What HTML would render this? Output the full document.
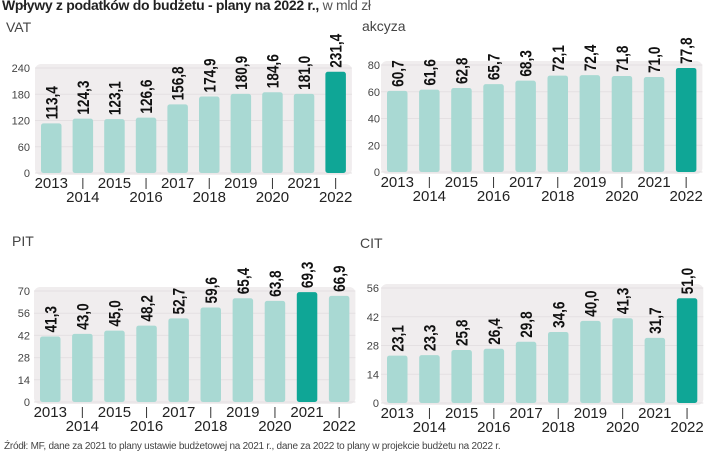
<!DOCTYPE html>
<html><head><meta charset="utf-8">
<style>
html,body{margin:0;padding:0;background:#fff;}
body{width:720px;height:457px;position:relative;overflow:hidden;font-family:"Liberation Sans",sans-serif;}
.t{position:absolute;white-space:nowrap;color:#222;}
</style></head>
<body>
<div class="t" style="left:2px;top:-3px;font-size:14px;letter-spacing:-0.3px;"><b>Wpływy z podatków do budżetu - plany na 2022 r.,</b> <span style="color:#555">w mld zł</span></div>
<div class="t" style="left:6px;top:19px;font-size:14px;color:#444">VAT</div>
<div class="t" style="left:362px;top:18px;font-size:14px;color:#444">akcyza</div>
<div class="t" style="left:12px;top:233px;font-size:14px;color:#444">PIT</div>
<div class="t" style="left:360px;top:235px;font-size:14px;color:#444">CIT</div>
<div class="t" style="left:4px;top:441px;font-size:10px;color:#444;letter-spacing:-0.25px">Źródł: MF, dane za 2021 to plany ustawie budżetowej na 2021 r., dane za 2022 to plany w projekcie budżetu na 2022 r.</div>
<svg id="chart" width="720" height="457" style="position:absolute;left:0;top:0"></svg>
<script>
const years = ["2013","2014","2015","2016","2017","2018","2019","2020","2021","2022"];
const vatValues = [113.4,124.3,123.1,126.6,156.8,174.9,180.9,184.6,181.0,231.4];
const akcyzaValues = [60.7,61.6,62.8,65.7,68.3,72.1,72.4,71.8,71.0,77.8];
const pitValues = [41.3,43.0,45.0,48.2,52.7,59.6,65.4,63.8,69.3,66.9];
const citValues = [23.1,23.3,25.8,26.4,29.8,34.6,40.0,41.3,31.7,51.0];
const vatTicks = [0,60,120,180,240];
const akcyzaTicks = [0,20,40,60,80];
const pitTicks = [0,14,28,42,56,70];
const citTicks = [0,14,28,42,56];
const vatHighlight = 9, akcyzaHighlight = 9, pitHighlight = 8, citHighlight = 9;

const NS="http://www.w3.org/2000/svg";
const svg=document.getElementById('chart');
function mk(tag,attrs){const e=document.createElementNS(NS,tag);for(const k in attrs)e.setAttribute(k,attrs[k]);svg.appendChild(e);return e;}
const fmt=v=>v.toFixed(1).replace('.',',');

function panel(name,values,ticks,hi,x0,step,yZero,yMax,labelX){
  const maxT=ticks[ticks.length-1];
  const y=v=>yZero-(v/maxT)*(yZero-yMax);
  const bw=20.5;
  const bg=mk('rect',{x:x0-6,y:yMax-4,width:step*9+bw+12,height:yZero-yMax+6,rx:6,fill:'#f0edee'});
  
  
  ticks.forEach(t=>{
    const g=mk('line',{x1:x0-6,x2:x0+step*9+bw+6,y1:y(t),y2:y(t),stroke:'#e4e0e2','stroke-width':1});
    
    
    const l=mk('text',{x:labelX,y:y(t)+4,'font-size':11,fill:'#444','text-anchor':'end','font-family':'Liberation Sans'});
    l.textContent=t;
    
    
  });
  values.forEach((v,i)=>{
    const x=x0+i*step;
    const b=mk('rect',{x:x,y:y(v),width:bw,height:yZero-y(v),rx:2.5,fill:i===hi?'#0fa696':'#a9d9d3'});
    
    
    const cx=x+bw/2+6, cy=y(v)-4;
    const vl=mk('text',{x:0,y:0,'font-size':17,'font-weight':'bold',fill:'#111','font-family':'Liberation Sans','transform':'translate('+cx+' '+cy+') rotate(-90) scale(0.8 1)'});
    vl.textContent=fmt(v);
    
    
    const odd=i%2===0;
    const yl=mk('text',{x:x+bw/2,y:odd?yZero+15:yZero+29,'font-size':15,fill:'#222','text-anchor':'middle','font-family':'Liberation Sans'});
    yl.textContent=years[i];
    
    
    if(!odd){
      const tk=mk('line',{x1:x+bw/2,x2:x+bw/2,y1:yZero+5,y2:yZero+16,stroke:'#333','stroke-width':1});
      
      
    }
  });
}
panel('vat',vatValues,vatTicks,vatHighlight,41,31.6,173,68,30);
panel('akcyza',akcyzaValues,akcyzaTicks,akcyzaHighlight,387,32.1,172,65,380);
panel('pit',pitValues,pitTicks,pitHighlight,40,32.1,402,291,30);
panel('cit',citValues,citTicks,citHighlight,387,32.2,403,288,379);
</script>
</body></html>
